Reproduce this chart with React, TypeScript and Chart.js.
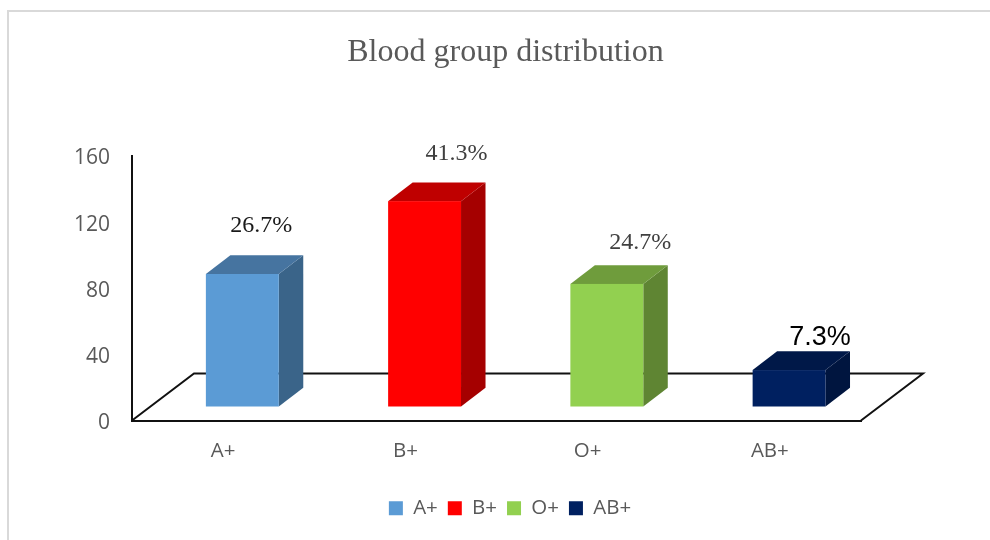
import React, { useEffect, useRef } from "react";
import { Chart, BarController, registerables } from "chart.js";

Chart.register(...registerables);

const categories = ["A+", "B+", "O+", "AB+"];
const counts = [80, 124, 74, 22];
const percentLabels = ["26.7%", "41.3%", "24.7%", "7.3%"];
const frontColors = ["#5B9BD5", "#FF0000", "#92D050", "#002060"];
const topColors = ["#4674A0", "#BF0000", "#6F9C3C", "#001848"];
const sideColors = ["#3A6489", "#A50000", "#5F8533", "#00153F"];
const yTicks = [0, 40, 80, 120, 160];

const SHIFT_X = 19.2;
const SHIFT_Y = 14;
const DEPTH_X = 24.5;
const DEPTH_Y = 18.7;
const FLOOR_DX = 62;
const FLOOR_DY = 47;

class Bar3DController extends BarController {
  static id = "bar3d";
  static defaults = BarController.defaults;
  static overrides = BarController.overrides;
  draw() {
    const ctx = this.chart.ctx;
    const meta = this.getMeta();
    meta.data.forEach((el: any, i: number) => {
      const w = el.width;
      const l = el.x - w / 2 + SHIFT_X;
      const r = l + w;
      const t = el.y - SHIFT_Y;
      const b = el.base - SHIFT_Y;
      ctx.save();
      ctx.fillStyle = sideColors[i];
      ctx.beginPath();
      ctx.moveTo(r, t);
      ctx.lineTo(r + DEPTH_X, t - DEPTH_Y);
      ctx.lineTo(r + DEPTH_X, b - DEPTH_Y);
      ctx.lineTo(r, b);
      ctx.closePath();
      ctx.fill();
      ctx.fillStyle = topColors[i];
      ctx.beginPath();
      ctx.moveTo(l, t);
      ctx.lineTo(l + DEPTH_X, t - DEPTH_Y);
      ctx.lineTo(r + DEPTH_X, t - DEPTH_Y);
      ctx.lineTo(r, t);
      ctx.closePath();
      ctx.fill();
      ctx.fillStyle = frontColors[i];
      ctx.fillRect(l, t, w, b - t);
      ctx.restore();
    });
  }
}
Chart.register(Bar3DController);

const floorPlugin = {
  id: "floor",
  beforeDatasetsDraw(chart: any) {
    const { ctx, scales } = chart;
    const left = scales.x.left;
    const right = scales.x.right;
    const y0 = scales.y.getPixelForValue(0);
    ctx.save();
    ctx.strokeStyle = "#111111";
    ctx.lineWidth = 2;
    ctx.lineJoin = "miter";
    ctx.beginPath();
    ctx.moveTo(left, y0);
    ctx.lineTo(left + FLOOR_DX, y0 - FLOOR_DY);
    ctx.lineTo(right + FLOOR_DX, y0 - FLOOR_DY);
    ctx.lineTo(right, y0);
    ctx.stroke();
    ctx.restore();
  },
};

const labelStyles = [
  { dx: 18.8, dy: -48, font: "24px 'Liberation Serif'", color: "#1a1a1a" },
  { dx: 31.8, dy: -47, font: "24px 'Liberation Serif'", color: "#404040" },
  { dx: 33.3, dy: -41, font: "24px 'Liberation Serif'", color: "#404040" },
  { dx: 31, dy: -32.5, font: "27px 'Liberation Sans'", color: "#000000" },
];

const valueLabelPlugin = {
  id: "valueLabels",
  afterDatasetsDraw(chart: any) {
    const { ctx } = chart;
    const meta = chart.getDatasetMeta(0);
    ctx.save();
    ctx.textAlign = "center";
    ctx.textBaseline = "middle";
    meta.data.forEach((el: any, i: number) => {
      const s = labelStyles[i];
      ctx.font = s.font;
      ctx.fillStyle = s.color;
      ctx.fillText(percentLabels[i], el.x + SHIFT_X + s.dx, el.y - SHIFT_Y + s.dy);
    });
    ctx.restore();
  },
};

const centerBoxesPlugin = {
  id: "centerBoxes",
  afterLayout(chart: any) {
    chart.titleBlock.left = 21;
    chart.titleBlock.right = 990;
    chart.legend.left = 30;
    chart.legend.right = 990;
  },
};

export default function App() {
  const ref = useRef<HTMLCanvasElement>(null);
  useEffect(() => {
    const chart = new Chart(ref.current as HTMLCanvasElement, {
      type: "bar3d" as any,
      data: {
        labels: categories,
        datasets: [
          {
            label: "Blood group",
            data: counts,
            backgroundColor: frontColors,
            barPercentage: 0.4,
            categoryPercentage: 1,
            clip: false,
          } as any,
        ],
      },
      options: {
        responsive: false,
        animation: false,
        layout: { padding: { left: 0, right: 129, top: 0, bottom: 11.5 } },
        plugins: {
          title: {
            display: true,
            text: "Blood group distribution",
            color: "#595959",
            font: { family: "'Liberation Serif'", size: 32, weight: "normal", lineHeight: 1.2 },
            padding: { top: 33.8, bottom: 83.3 },
          },
          legend: {
            display: true,
            position: "bottom",
            labels: {
              boxWidth: 14,
              boxHeight: 14,
              padding: 10,
              color: "#595959",
              font: { family: "'Open Sans'", size: 20.5 },
              generateLabels: () =>
                categories.map((c, i) => ({
                  text: c,
                  fillStyle: frontColors[i],
                  strokeStyle: frontColors[i],
                  lineWidth: 0,
                  index: i,
                  fontColor: "#595959",
                })),
            },
          },
          tooltip: { enabled: false },
        },
        scales: {
          x: {
            type: "category",
            grid: { display: false, drawTicks: false },
            border: { display: true, color: "#111111", width: 2 },
            ticks: { color: "#595959", font: { family: "'Open Sans'", size: 20.5 }, padding: 18.5, maxRotation: 0 },
            afterFit: (s: any) => {
              s.height = 67.5;
            },
          },
          y: {
            type: "linear",
            min: 0,
            max: 160,
            afterBuildTicks: (s: any) => {
              s.ticks = yTicks.map((value) => ({ value }));
            },
            grid: { display: false, drawTicks: false },
            border: { display: true, color: "#111111", width: 2 },
            ticks: { color: "#595959", font: { family: "'Open Sans'", size: 21 }, padding: 22, labelOffset: 3 },
            afterFit: (s: any) => {
              s.width = 132;
            },
          },
        },
      } as any,
      plugins: [floorPlugin, valueLabelPlugin, centerBoxesPlugin],
    });
    return () => chart.destroy();
  }, []);
  return (
    <div style={{ position: "fixed", left: 0, top: 0, width: 990, height: 540, overflow: "hidden", background: "#fff" }}>
      <div
        style={{
          position: "absolute",
          left: 7,
          top: 10,
          right: 0,
          bottom: 0,
          borderTop: "2px solid #d9d9d9",
          borderLeft: "2px solid #d9d9d9",
        }}
      />
      <canvas ref={ref} width={990} height={540} style={{ position: "absolute", left: 0, top: 0, display: "block" }} />
    </div>
  );
}
